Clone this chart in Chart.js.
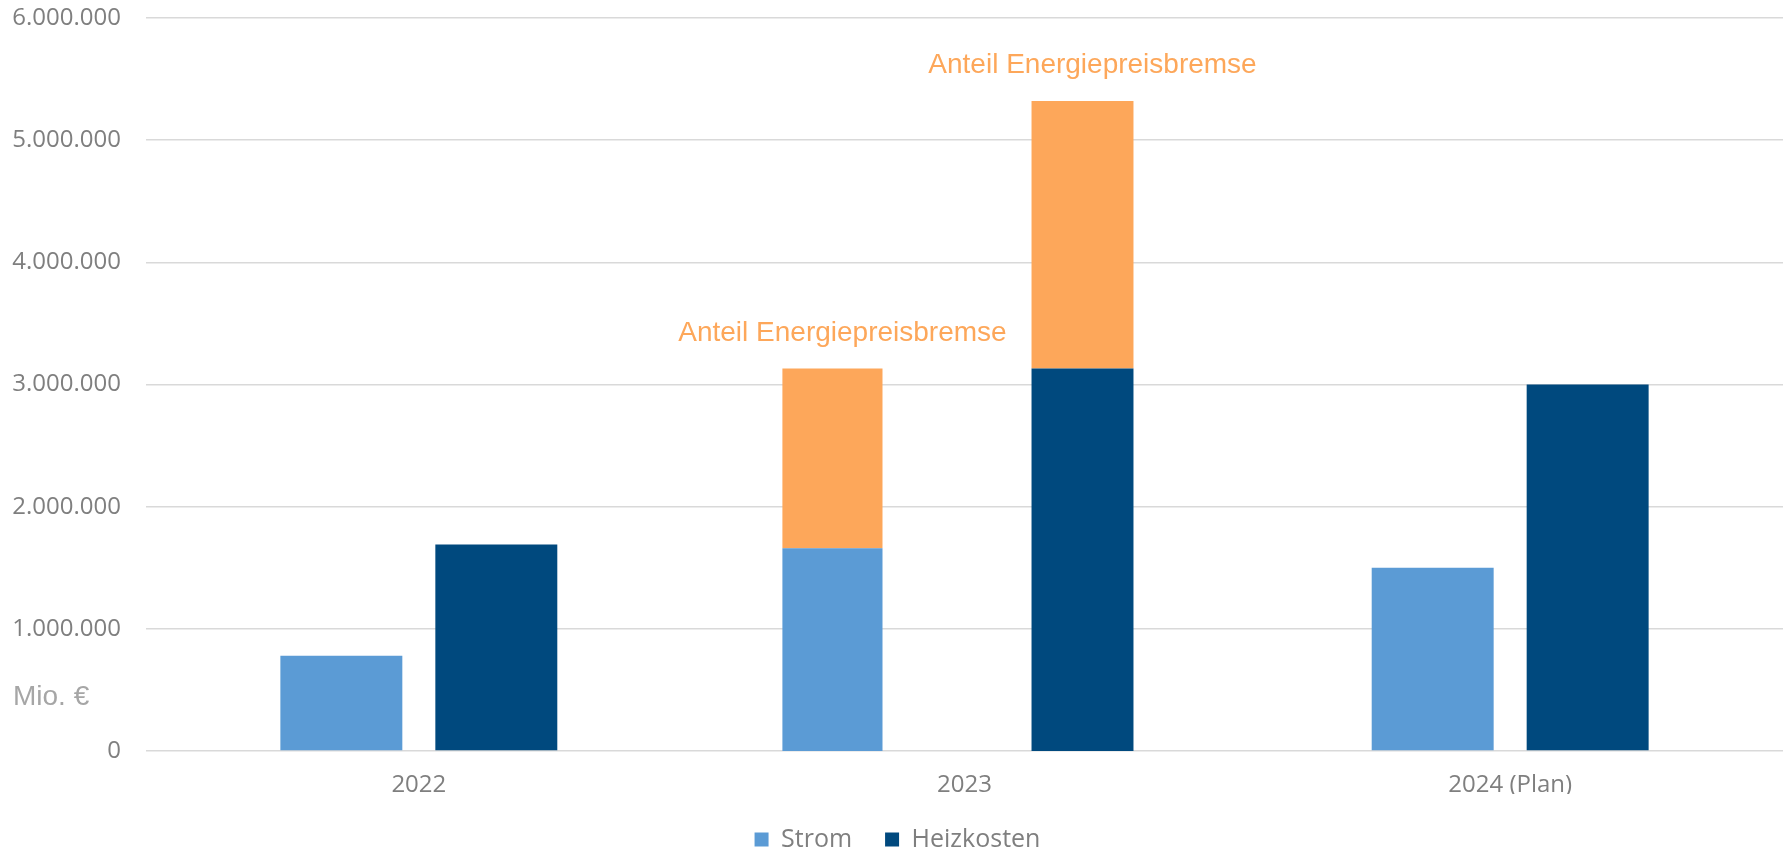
<!DOCTYPE html>
<html lang="de">
<head>
<meta charset="utf-8">
<title>Energiekosten</title>
<script src="https://cdn.jsdelivr.net/npm/chart.js@4/dist/chart.umd.min.js"></script>
<style>
  html, body { margin: 0; padding: 0; background: #fff; }
  #wrap { width: 1785px; height: 853px; position: relative; }
</style>
</head>
<body>
<div id="wrap"><canvas id="costs"></canvas></div>
<script>
const CATEGORIES = ['2022', '2023', '2024 (Plan)'];

// Strom / Heizkosten for 2022 and 2024
const STROM = [780000, null, 1500000];
const HEIZKOSTEN = [1690000, null, 3000000];

// 2023 drawn as its own group: own cost + share of the price brake on top
const STROM_2023 = [null, 1660000, null];
const HEIZKOSTEN_2023 = [null, 3130000, null];
const BREMSE_STROM = [null, 1470000, null];
const BREMSE_HEIZ = [null, 2190000, null];
const BASE_2023 = -55000;

const Y_TICKS = [0, 1000000, 2000000, 3000000, 4000000, 5000000, 6000000];

const LIGHT_BLUE = '#5b9bd5';
const DARK_BLUE = '#00497e';
const ORANGE = '#fda75a';
const GREY = '#7f7f7f';

const main = () => {
  const canvas = document.getElementById('costs');

  const fmt = (v) => v.toLocaleString('de-DE');
  // 2023 bars start slightly below the zero line
  const fromBase = (arr) => arr.map(v => (v == null ? null : [BASE_2023, v]));

  // orange captions above the price brake segments + unit label
  const captions = {
    id: 'captions',
    afterDatasetsDraw(chart) {
      const { ctx } = chart;
      ctx.save();
      ctx.font = '28px "Liberation Sans", Arial, sans-serif';
      ctx.fillStyle = ORANGE;
      ctx.textAlign = 'center';
      ctx.textBaseline = 'alphabetic';
      chart.data.datasets.forEach((ds, i) => {
        if (!ds.caption) return;
        const meta = chart.getDatasetMeta(i);
        meta.data.forEach((bar, j) => {
          if (ds.data[j] == null) return;
          ctx.fillText(ds.label, bar.x + 10, bar.y - 28);
        });
      });

      const y = chart.scales.y;
      ctx.fillStyle = '#a6a6a6';
      ctx.textAlign = 'left';
      ctx.fillText('Mio. €', 13, y.getPixelForValue(380000));
      ctx.restore();
    }
  };

  const group2022 = { categoryPercentage: 0.568, barPercentage: 0.787 };
  const stromGroup2023 = { categoryPercentage: 0.968, barPercentage: 0.379 };
  const heizGroup2023 = { categoryPercentage: 0.865, barPercentage: 0.432 };

  const data = {
    labels: CATEGORIES,
    datasets: [
      { label: 'Strom', data: STROM, backgroundColor: LIGHT_BLUE, stack: 'strom', ...group2022 },
      { label: 'Heizkosten', data: HEIZKOSTEN, backgroundColor: DARK_BLUE, stack: 'heiz', ...group2022 },
      { label: 'Strom', data: fromBase(STROM_2023), backgroundColor: LIGHT_BLUE, stack: 'strom', ...stromGroup2023 },
      { label: 'Anteil Energiepreisbremse', data: BREMSE_STROM, backgroundColor: ORANGE, caption: true, stack: 'strom', ...stromGroup2023 },
      { label: 'Heizkosten', data: fromBase(HEIZKOSTEN_2023), backgroundColor: DARK_BLUE, stack: 'heiz', ...heizGroup2023 },
      { label: 'Anteil Energiepreisbremse', data: BREMSE_HEIZ, backgroundColor: ORANGE, caption: true, stack: 'heiz', ...heizGroup2023 }
    ]
  };

  const options = {
    responsive: true,
    maintainAspectRatio: false,
    animation: false,
    layout: { padding: { left: 12, right: 2, top: 0, bottom: -9 } },
    plugins: {
      legend: {
        position: 'bottom',
        labels: {
          filter: (item) => item.datasetIndex < 2,
          boxWidth: 14,
          boxHeight: 14,
          padding: 33,
          color: GREY,
          font: { family: '"Open Sans"', size: 25 }
        }
      },
      tooltip: { enabled: false }
    },
    scales: {
      x: {
        stacked: true,
        afterFit: (axis) => { axis.height = 43; },
        grid: { display: false, drawTicks: false },
        border: { display: false },
        ticks: { color: GREY, padding: 20, font: { family: '"Open Sans"', size: 24 } }
      },
      y: {
        stacked: true,
        min: 0,
        max: 6000000,
        afterBuildTicks: (axis) => { axis.ticks = Y_TICKS.map(v => ({ value: v })); },
        afterFit: (axis) => {
          axis.width = 134;
          axis.paddingTop = 18;
          axis.paddingBottom = 0;
        },
        grid: { color: '#d9d9d9', lineWidth: 1.5, drawTicks: false },
        border: { display: false },
        ticks: {
          color: GREY,
          padding: 25,
          font: { family: '"Open Sans"', size: 24 },
          callback: (v) => fmt(v)
        }
      }
    }
  };

  new Chart(canvas, { type: 'bar', data, options, plugins: [captions] });
};

main();
</script>
</body>
</html>
